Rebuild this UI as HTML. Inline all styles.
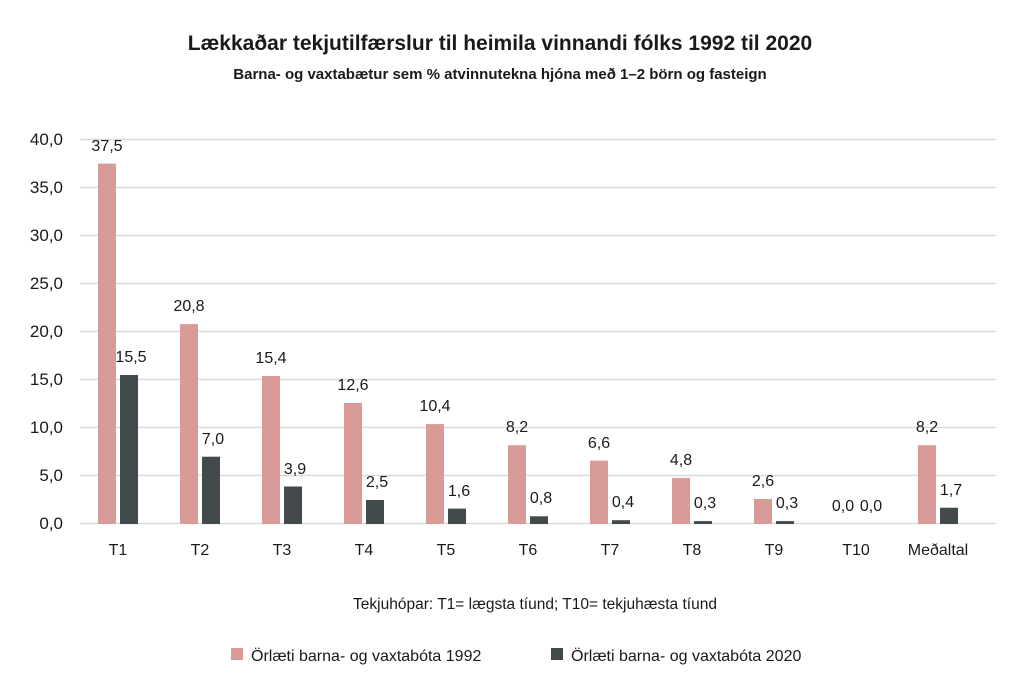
<!DOCTYPE html>
<html><head><meta charset="utf-8"><style>
body{margin:0;background:#fff;}
svg text{font-family:"Liberation Sans",sans-serif;fill:#1a1a1a;}
</style></head><body>
<svg width="1024" height="679" xmlns="http://www.w3.org/2000/svg">
<text x="500" y="50" text-anchor="middle" font-size="21" font-weight="bold">Lækkaðar tekjutilfærslur til heimila vinnandi fólks 1992 til 2020</text>
<text x="500" y="79" text-anchor="middle" font-size="15" font-weight="bold">Barna- og vaxtabætur sem % atvinnutekna hjóna með 1–2 börn og fasteign</text>
<g stroke="#d9d9d9" stroke-width="1.5">
<line x1="80" x2="996" y1="139.5" y2="139.5"/><line x1="80" x2="996" y1="187.5" y2="187.5"/>
<line x1="80" x2="996" y1="235.5" y2="235.5"/><line x1="80" x2="996" y1="283.5" y2="283.5"/>
<line x1="80" x2="996" y1="331.5" y2="331.5"/><line x1="80" x2="996" y1="379.5" y2="379.5"/>
<line x1="80" x2="996" y1="427.5" y2="427.5"/><line x1="80" x2="996" y1="475.5" y2="475.5"/>
<line x1="80" x2="996" y1="523.5" y2="523.5"/>
</g>
<g font-size="17" text-anchor="end">
<text x="63" y="145">40,0</text><text x="63" y="193">35,0</text><text x="63" y="241">30,0</text>
<text x="63" y="289">25,0</text><text x="63" y="337">20,0</text><text x="63" y="385">15,0</text>
<text x="63" y="433">10,0</text><text x="63" y="481">5,0</text><text x="63" y="529">0,0</text>
</g>
<g fill="#d99b97">
<rect x="98" y="163.6" width="18" height="360.4"/>
<rect x="180" y="324.1" width="18" height="199.9"/>
<rect x="262" y="376" width="18" height="148"/>
<rect x="344" y="402.9" width="18" height="121.1"/>
<rect x="426" y="424.1" width="18" height="99.9"/>
<rect x="508" y="445.2" width="18" height="78.8"/>
<rect x="590" y="460.6" width="18" height="63.4"/>
<rect x="672" y="477.9" width="18" height="46.1"/>
<rect x="754" y="499" width="18" height="25"/>
<rect x="918" y="445.2" width="18" height="78.8"/>
</g>
<g fill="#434a4c">
<rect x="120" y="375" width="18" height="149"/>
<rect x="202" y="456.7" width="18" height="67.3"/>
<rect x="284" y="486.5" width="18" height="37.5"/>
<rect x="366" y="500" width="18" height="24"/>
<rect x="448" y="508.6" width="18" height="15.4"/>
<rect x="530" y="516.3" width="18" height="7.7"/>
<rect x="612" y="520.2" width="18" height="3.8"/>
<rect x="694" y="521.1" width="18" height="2.9"/>
<rect x="776" y="521.1" width="18" height="2.9"/>
<rect x="940" y="507.7" width="18" height="16.3"/>
</g>
<g font-size="16" text-anchor="middle">
<text x="107" y="151">37,5</text><text x="131" y="362">15,5</text>
<text x="189" y="311">20,8</text><text x="213" y="444">7,0</text>
<text x="271" y="363">15,4</text><text x="295" y="474">3,9</text>
<text x="353" y="390">12,6</text><text x="377" y="487">2,5</text>
<text x="435" y="411">10,4</text><text x="459" y="496">1,6</text>
<text x="517" y="432">8,2</text><text x="541" y="503">0,8</text>
<text x="599" y="448">6,6</text><text x="623" y="507">0,4</text>
<text x="681" y="465">4,8</text><text x="705" y="508">0,3</text>
<text x="763" y="486">2,6</text><text x="787" y="508">0,3</text>
<text x="843" y="511">0,0</text><text x="871" y="511">0,0</text>
<text x="927" y="432">8,2</text><text x="951" y="495">1,7</text>
<text x="118" y="555">T1</text><text x="200" y="555">T2</text><text x="282" y="555">T3</text>
<text x="364" y="555">T4</text><text x="446" y="555">T5</text><text x="528" y="555">T6</text>
<text x="610" y="555">T7</text><text x="692" y="555">T8</text><text x="774" y="555">T9</text>
<text x="856" y="555">T10</text><text x="938" y="555">Meðaltal</text>
</g>
<text x="535" y="609" text-anchor="middle" font-size="15.5">Tekjuhópar: T1= lægsta tíund; T10= tekjuhæsta tíund</text>
<rect x="231" y="648" width="12" height="12" fill="#d99b97"/>
<text x="251" y="661" font-size="16">Örlæti barna- og vaxtabóta 1992</text>
<rect x="551" y="648" width="12" height="12" fill="#434a4c"/>
<text x="571" y="661" font-size="16">Örlæti barna- og vaxtabóta 2020</text>
</svg>
</body></html>
